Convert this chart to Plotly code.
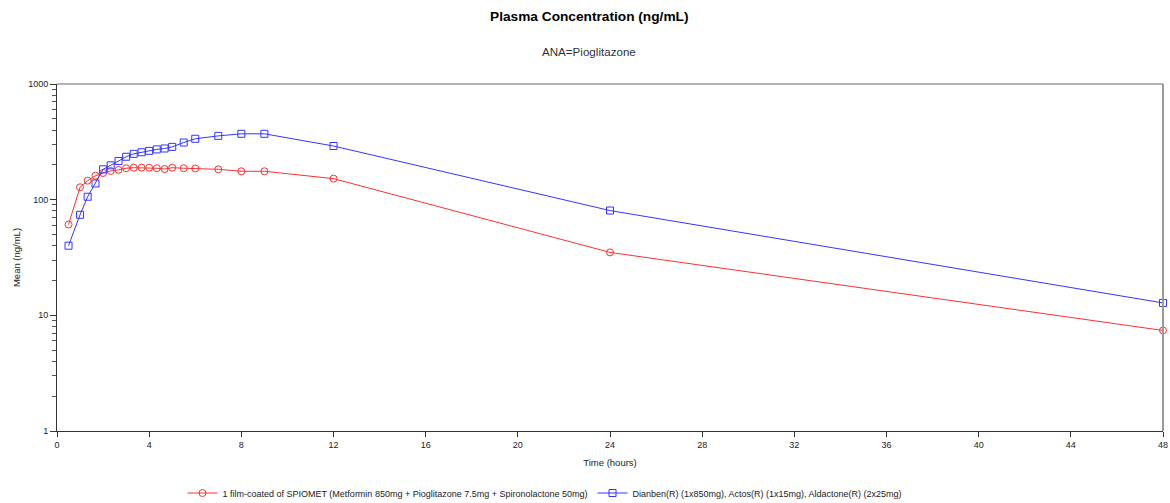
import plotly.graph_objects as go

time_h = [0.5, 1, 1.33, 1.67, 2, 2.33, 2.67, 3, 3.33, 3.67, 4, 4.33, 4.67, 5, 5.5, 6, 7, 8, 9, 12, 24, 48]
spiomet = [61, 128, 146, 161, 170, 177, 181, 187, 189, 189, 189, 187, 184, 189, 187, 186, 183, 176, 176, 152, 35, 7.4]
reference = [40, 74, 106, 138, 183, 198, 216, 235, 249, 257, 264, 272, 277, 286, 312, 336, 356, 371, 371, 291, 80.5, 12.8]

name_a = "1 film-coated of SPIOMET (Metformin 850mg + Pioglitazone 7.5mg + Spironolactone 50mg)"
name_b = "Dianben(R) (1x850mg), Actos(R) (1x15mg), Aldactone(R) (2x25mg)"
x_ticks = list(range(0, 49, 4))
y_ticks = [1, 10, 100, 1000]

font = "Liberation Sans, Arial, sans-serif"
L, R, T, B = 57, 7, 84, 72
W, H = 1170, 503
plot_h = H - T - B
plot_w = W - L - R

fig = go.Figure()
fig.add_trace(go.Scatter(
    x=time_h, y=spiomet, mode="lines+markers", name=name_a, cliponaxis=False,
    line=dict(color="#ff3030", width=1),
    marker=dict(symbol="circle-open", size=7, color="#ff3030", line=dict(width=1)),
))
fig.add_trace(go.Scatter(
    x=time_h, y=reference, mode="lines+markers", name=name_b, cliponaxis=False,
    line=dict(color="#3535ff", width=1),
    marker=dict(symbol="square-open", size=7, color="#3535ff", line=dict(width=1)),
))

fig.update_layout(
    width=W, height=H,
    margin=dict(l=L, r=R, t=T, b=B, autoexpand=False),
    paper_bgcolor="white", plot_bgcolor="white",
    font=dict(family=font, size=9, color="#222"),
    showlegend=True,
    legend=dict(orientation="h", x=(545 - L) / plot_w, xanchor="center",
                y=-(493 - (T + plot_h)) / plot_h, yanchor="middle",
                font=dict(size=9, color="#222"), itemwidth=30, tracegroupgap=0),
    annotations=[
        dict(text="<b>Plasma Concentration (ng/mL)</b>", x=(589.5 - L) / plot_w, xref="paper",
             xanchor="center", y=1 + (T - 16) / plot_h, yref="paper", yanchor="middle",
             showarrow=False, font=dict(size=13.7, color="#000", family=font)),
        dict(text="ANA=Pioglitazone", x=(589 - L) / plot_w, xref="paper", xanchor="center",
             y=1 + (T - 52) / plot_h, yref="paper", yanchor="middle", showarrow=False,
             font=dict(size=11.6, color="#333", family=font)),
    ],
    shapes=[
        dict(type="line", xref="paper", yref="paper", x0=0, x1=1, y0=1, y1=1,
             line=dict(color="#9a9a9a", width=1.5)),
        dict(type="line", xref="paper", yref="paper", x0=1, x1=1, y0=0, y1=1,
             line=dict(color="#9a9a9a", width=2)),
    ],
)

fig.update_xaxes(
    range=[0, 48], tickvals=x_ticks, ticktext=[str(v) for v in x_ticks], automargin=False,
    ticks="outside", ticklen=5, tickcolor="#333", showline=True, linecolor="#333", linewidth=1,
    showgrid=False, zeroline=False,
    title=dict(text="Time (hours)", font=dict(size=9.5, color="#222"), standoff=10),
    tickfont=dict(size=9, color="#222"),
)
fig.update_yaxes(
    type="log", range=[0, 3], tickvals=y_ticks, ticktext=[str(v) for v in y_ticks], automargin=False,
    ticks="outside", ticklen=6, tickcolor="#333", showline=True, linecolor="#333", linewidth=1,
    showgrid=False, zeroline=False,
    minor=dict(ticks="outside", ticklen=4, tickcolor="#555", dtick="D1", showgrid=False),
    title=dict(text="Mean (ng/mL)", font=dict(size=9.5, color="#222"), standoff=5),
    tickfont=dict(size=9, color="#222"),
)

fig.write_html("out.html", config={"displayModeBar": False},
               post_script="document.body.style.margin='0';document.body.style.overflow='hidden';")
